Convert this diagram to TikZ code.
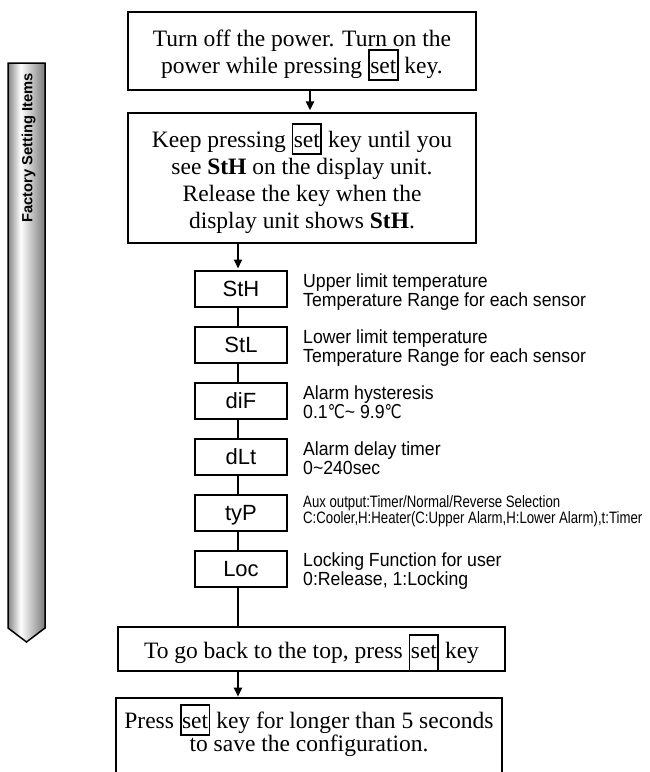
\documentclass[tikz,border=0pt]{standalone}
\usepackage{fontspec}
\setmainfont{Liberation Serif}
\newfontfamily\sansf{Liberation Sans}
\newfontfamily\descf[FakeStretch=0.93]{Liberation Sans}
\newfontfamily\narrowf[FakeStretch=0.8]{Liberation Sans}
\newfontfamily\symf[FakeStretch=0.8]{DejaVu Sans}
\usetikzlibrary{arrows.meta}
\pgfdeclarehorizontalshading{barshade}{100bp}{color(0bp)=(black!48); color(25bp)=(black!48); color(42bp)=(white); color(75bp)=(black!52); color(100bp)=(black!52)}
\newcommand{\keybox}[1][0.24em]{{\setlength{\fboxsep}{0.4pt}\setlength{\fboxrule}{1.8pt}\fbox{\rule[-#1]{0pt}{\dimexpr0.92em+#1\relax}set}}}
\newcommand{\degc}{{\symf ℃}}
\begin{document}
\setlength{\lineskiplimit}{-30pt}
\begin{tikzpicture}[x=1pt,y=-1pt,
  mainbox/.style={draw, line width=2.6pt, align=center, inner sep=0pt, font=\fontsize{23.5}{27}\selectfont},
  parbox/.style={draw, line width=2pt, minimum width=92pt, minimum height=36pt, inner sep=0pt, text height=15.8pt, text depth=0pt, font=\sansf\fontsize{22}{24}\selectfont},
  desc/.style={anchor=base west, inner sep=0pt, align=left, font=\descf\fontsize{19}{19}\selectfont},
  smalldesc/.style={desc, font=\narrowf\fontsize{16.5}{15.5}\selectfont},
  thinbox/.style={draw, line width=1.3pt, inner sep=0pt, align=center, font=\fontsize{23.5}{23}\selectfont},
  conn/.style={line width=2pt},
  arr/.style={conn, -{Triangle[width=8pt,length=9pt]}}]

\useasboundingbox (0,0) rectangle (650,772);

% side bar
\path[draw=black, line width=1.5pt, shade, shading=barshade] (8,63) -- (45,63) -- (45,628) -- (26.5,642) -- (8,628) -- cycle;
\node[rotate=90, inner sep=0pt, font=\sansf\bfseries\fontsize{14.7}{15}\selectfont] (side) at (28.5,148) {Factory Setting Items};

% main steps
\node[mainbox, minimum width=348pt, text height=61pt, text depth=17pt, anchor=base] (top) at (302,73)
  {Turn off the power. Turn on the\\power while pressing \keybox{} key.};
\node[mainbox, minimum width=348pt, text height=115pt, text depth=15pt, anchor=base] (keep) at (302,228)
  {Keep pressing \keybox{} key until you\\see \textbf{StH} on the display unit.\\Release the key when the\\display unit shows \textbf{StH}.};

% parameters
\node[parbox] (sth) at (241,288.5) {StH};
\node[parbox] (stl) at (241,344.5) {StL};
\node[parbox] (dif) at (241,400.5) {diF};
\node[parbox] (dlt) at (241,457) {dLt};
\node[parbox] (typ) at (241,512.5) {tyP};
\node[parbox] (loc) at (241,569) {Loc};

\node[desc] (dsth) at (303,306) {Upper limit temperature\\Temperature Range for each sensor};
\node[desc] (dstl) at (303,362) {Lower limit temperature\\Temperature Range for each sensor};
\node[desc] (ddif) at (303,418) {Alarm hysteresis\\0.1\degc\textasciitilde{} 9.9\degc};
\node[desc] (ddlt) at (303,474) {Alarm delay timer\\0\textasciitilde 240sec};
\node[smalldesc] (dtyp) at (303,523) {Aux output:Timer/Normal/Reverse Selection\\C:Cooler,H:Heater(C:Upper Alarm,H:Lower Alarm),t:Timer};
\node[desc] (dloc) at (303,585) {Locking Function for user\\0:Release, 1:Locking};

% final steps
\node[thinbox, minimum width=387pt, text height=31pt, text depth=13pt, anchor=base] (back) at (311.5,658)
  {To go back to the top, press \keybox[0.5em]{} key};
\node[thinbox, minimum width=386pt, text height=53pt, text depth=25pt, anchor=base] (final) at (309,751)
  {Press \keybox{} key for longer than 5 seconds\\to save the configuration.};

% connectors
\coordinate (a1) at (310,0);
\coordinate (col) at (238,0);
\draw[arr, shorten >=1.3pt] (top.south -| a1) -- (keep.north -| a1);
\draw[arr, shorten >=1pt] (keep.south -| col) -- (sth.north -| col);
\draw[conn] (sth.south -| col) -- (stl.north -| col);
\draw[conn] (stl.south -| col) -- (dif.north -| col);
\draw[conn] (dif.south -| col) -- (dlt.north -| col);
\draw[conn] (dlt.south -| col) -- (typ.north -| col);
\draw[conn] (typ.south -| col) -- (loc.north -| col);
\draw[conn] (loc.south -| col) -- (back.north -| col);
\draw[arr, shorten >=0.65pt] (back.south -| col) -- (final.north -| col);
\end{tikzpicture}
\end{document}
